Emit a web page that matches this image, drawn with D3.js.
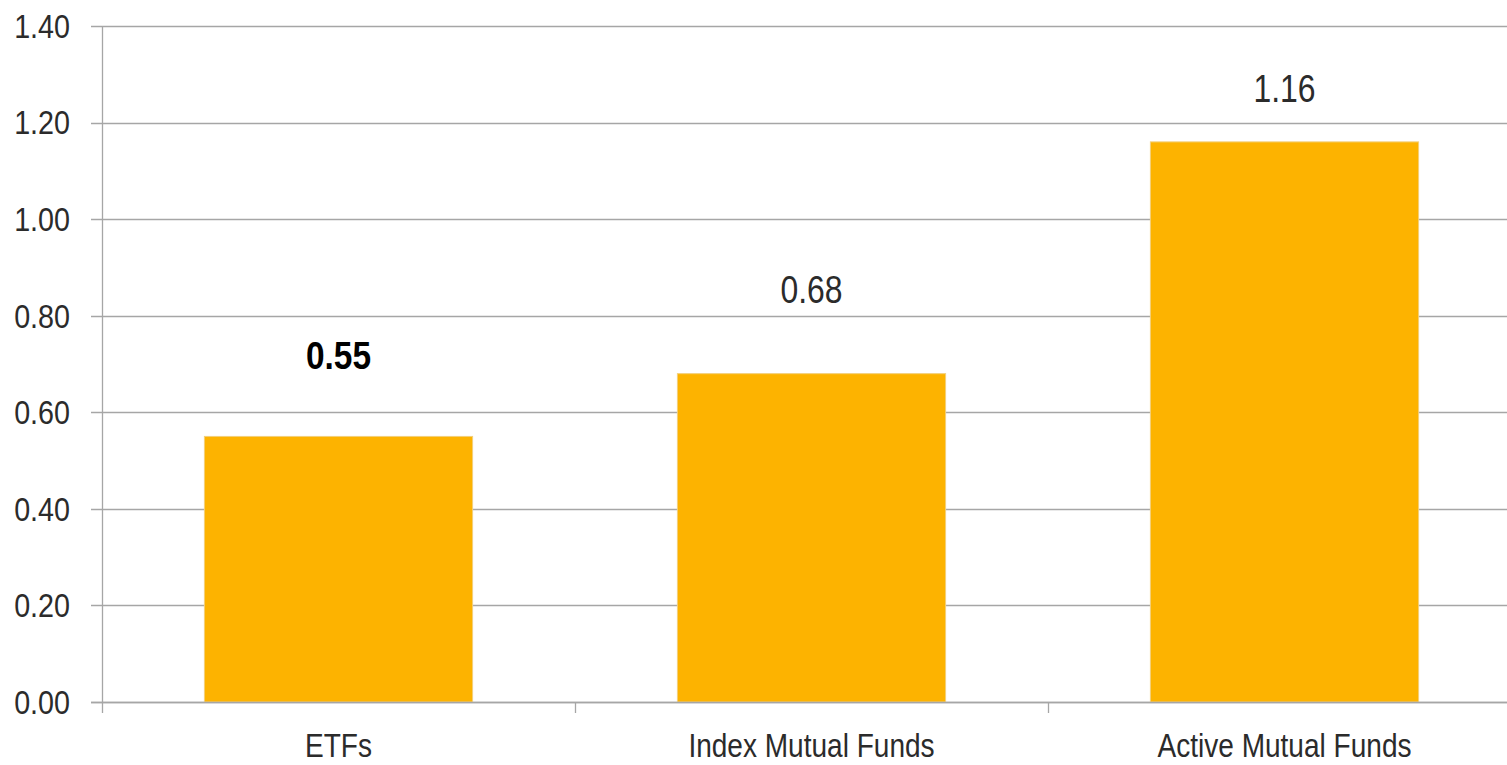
<!DOCTYPE html>
<html>
<head>
<meta charset="utf-8">
<script src="https://cdn.jsdelivr.net/npm/d3@7"></script>
<style>
  html, body { margin: 0; padding: 0; background: #fff; }
  svg { display: block; }
  text { font-family: "Liberation Sans", Arial, sans-serif; }
</style>
</head>
<body>
<svg id="chart" width="1507" height="765"></svg>
<script>
const categories = ["ETFs", "Index Mutual Funds", "Active Mutual Funds"];
const values = [0.55, 0.68, 1.16];
const valueLabels = ["0.55", "0.68", "1.16"];
const boldLabel = [true, false, false];
const labelGap = [67, 71, 40];
const yTicks = [0, 0.2, 0.4, 0.6, 0.8, 1.0, 1.2, 1.4];

(function () {
const svg = d3.select("#chart");
const mLeft = 102, mRight = 1521, mTop = 26, mBottom = 702;

const x = d3.scaleBand().domain(categories).range([mLeft, mRight]).paddingInner(0.433).paddingOuter(0.2165);
const xTickScale = d3.scaleBand().domain(categories).range([mLeft, mRight]);
const y = d3.scaleLinear().domain([0, 1.4]).range([mBottom, mTop]);

const gridColor = "#a6a6a6";
const textColor = "#2b2b2b";

svg.append("g").selectAll("line").data(yTicks).join("line")
  .attr("x1", mLeft - 11).attr("x2", mRight)
  .attr("y1", d => Math.round(y(d)) + 0.5).attr("y2", d => Math.round(y(d)) + 0.5)
  .attr("stroke", gridColor).attr("stroke-width", 1.3);

svg.append("g").selectAll("g").data(yTicks).join("g")
  .attr("transform", d => `translate(70,${y(d)}) scale(0.87,1)`)
  .append("text")
  .attr("dy", "0.36em")
  .attr("text-anchor", "end")
  .attr("font-size", 33).attr("fill", textColor)
  .text(d => d3.format(".2f")(d));

svg.append("g").selectAll("rect").data(values).join("rect")
  .attr("x", (d, i) => x(categories[i]))
  .attr("width", x.bandwidth())
  .attr("y", d => y(d))
  .attr("height", d => y(0) - y(d))
  .attr("fill", "#FDB300")
  .attr("stroke", "#f3cf7a").attr("stroke-width", 1);

svg.append("line").attr("x1", mLeft - 11).attr("x2", mRight)
  .attr("y1", Math.round(y(0)) + 0.5).attr("y2", Math.round(y(0)) + 0.5)
  .attr("stroke", gridColor).attr("stroke-width", 1.5);

svg.append("line").attr("x1", mLeft + 0.5).attr("x2", mLeft + 0.5)
  .attr("y1", mTop).attr("y2", mBottom + 11)
  .attr("stroke", gridColor).attr("stroke-width", 1.3);

svg.append("g").selectAll("line").data(categories.slice(1)).join("line")
  .attr("x1", d => Math.round(xTickScale(d)) + 0.5).attr("x2", d => Math.round(xTickScale(d)) + 0.5)
  .attr("y1", mBottom).attr("y2", mBottom + 11)
  .attr("stroke", gridColor).attr("stroke-width", 1.3);

svg.append("g").selectAll("g").data(categories).join("g")
  .attr("transform", d => `translate(${x(d) + x.bandwidth() / 2},757) scale(0.85,1)`)
  .append("text")
  .attr("text-anchor", "middle")
  .attr("font-size", 33).attr("fill", textColor)
  .text(d => d);

svg.append("g").selectAll("g").data(values).join("g")
  .attr("transform", (d, i) => `translate(${x(categories[i]) + x.bandwidth() / 2},${y(d) - labelGap[i]}) scale(${boldLabel[i] ? 0.88 : 0.84},1)`)
  .append("text")
  .attr("text-anchor", "middle")
  .attr("font-size", 38)
  .attr("font-weight", (d, i) => boldLabel[i] ? "bold" : "normal")
  .attr("fill", (d, i) => boldLabel[i] ? "#000" : textColor)
  .text((d, i) => valueLabels[i]);
})();
</script>
</body>
</html>
